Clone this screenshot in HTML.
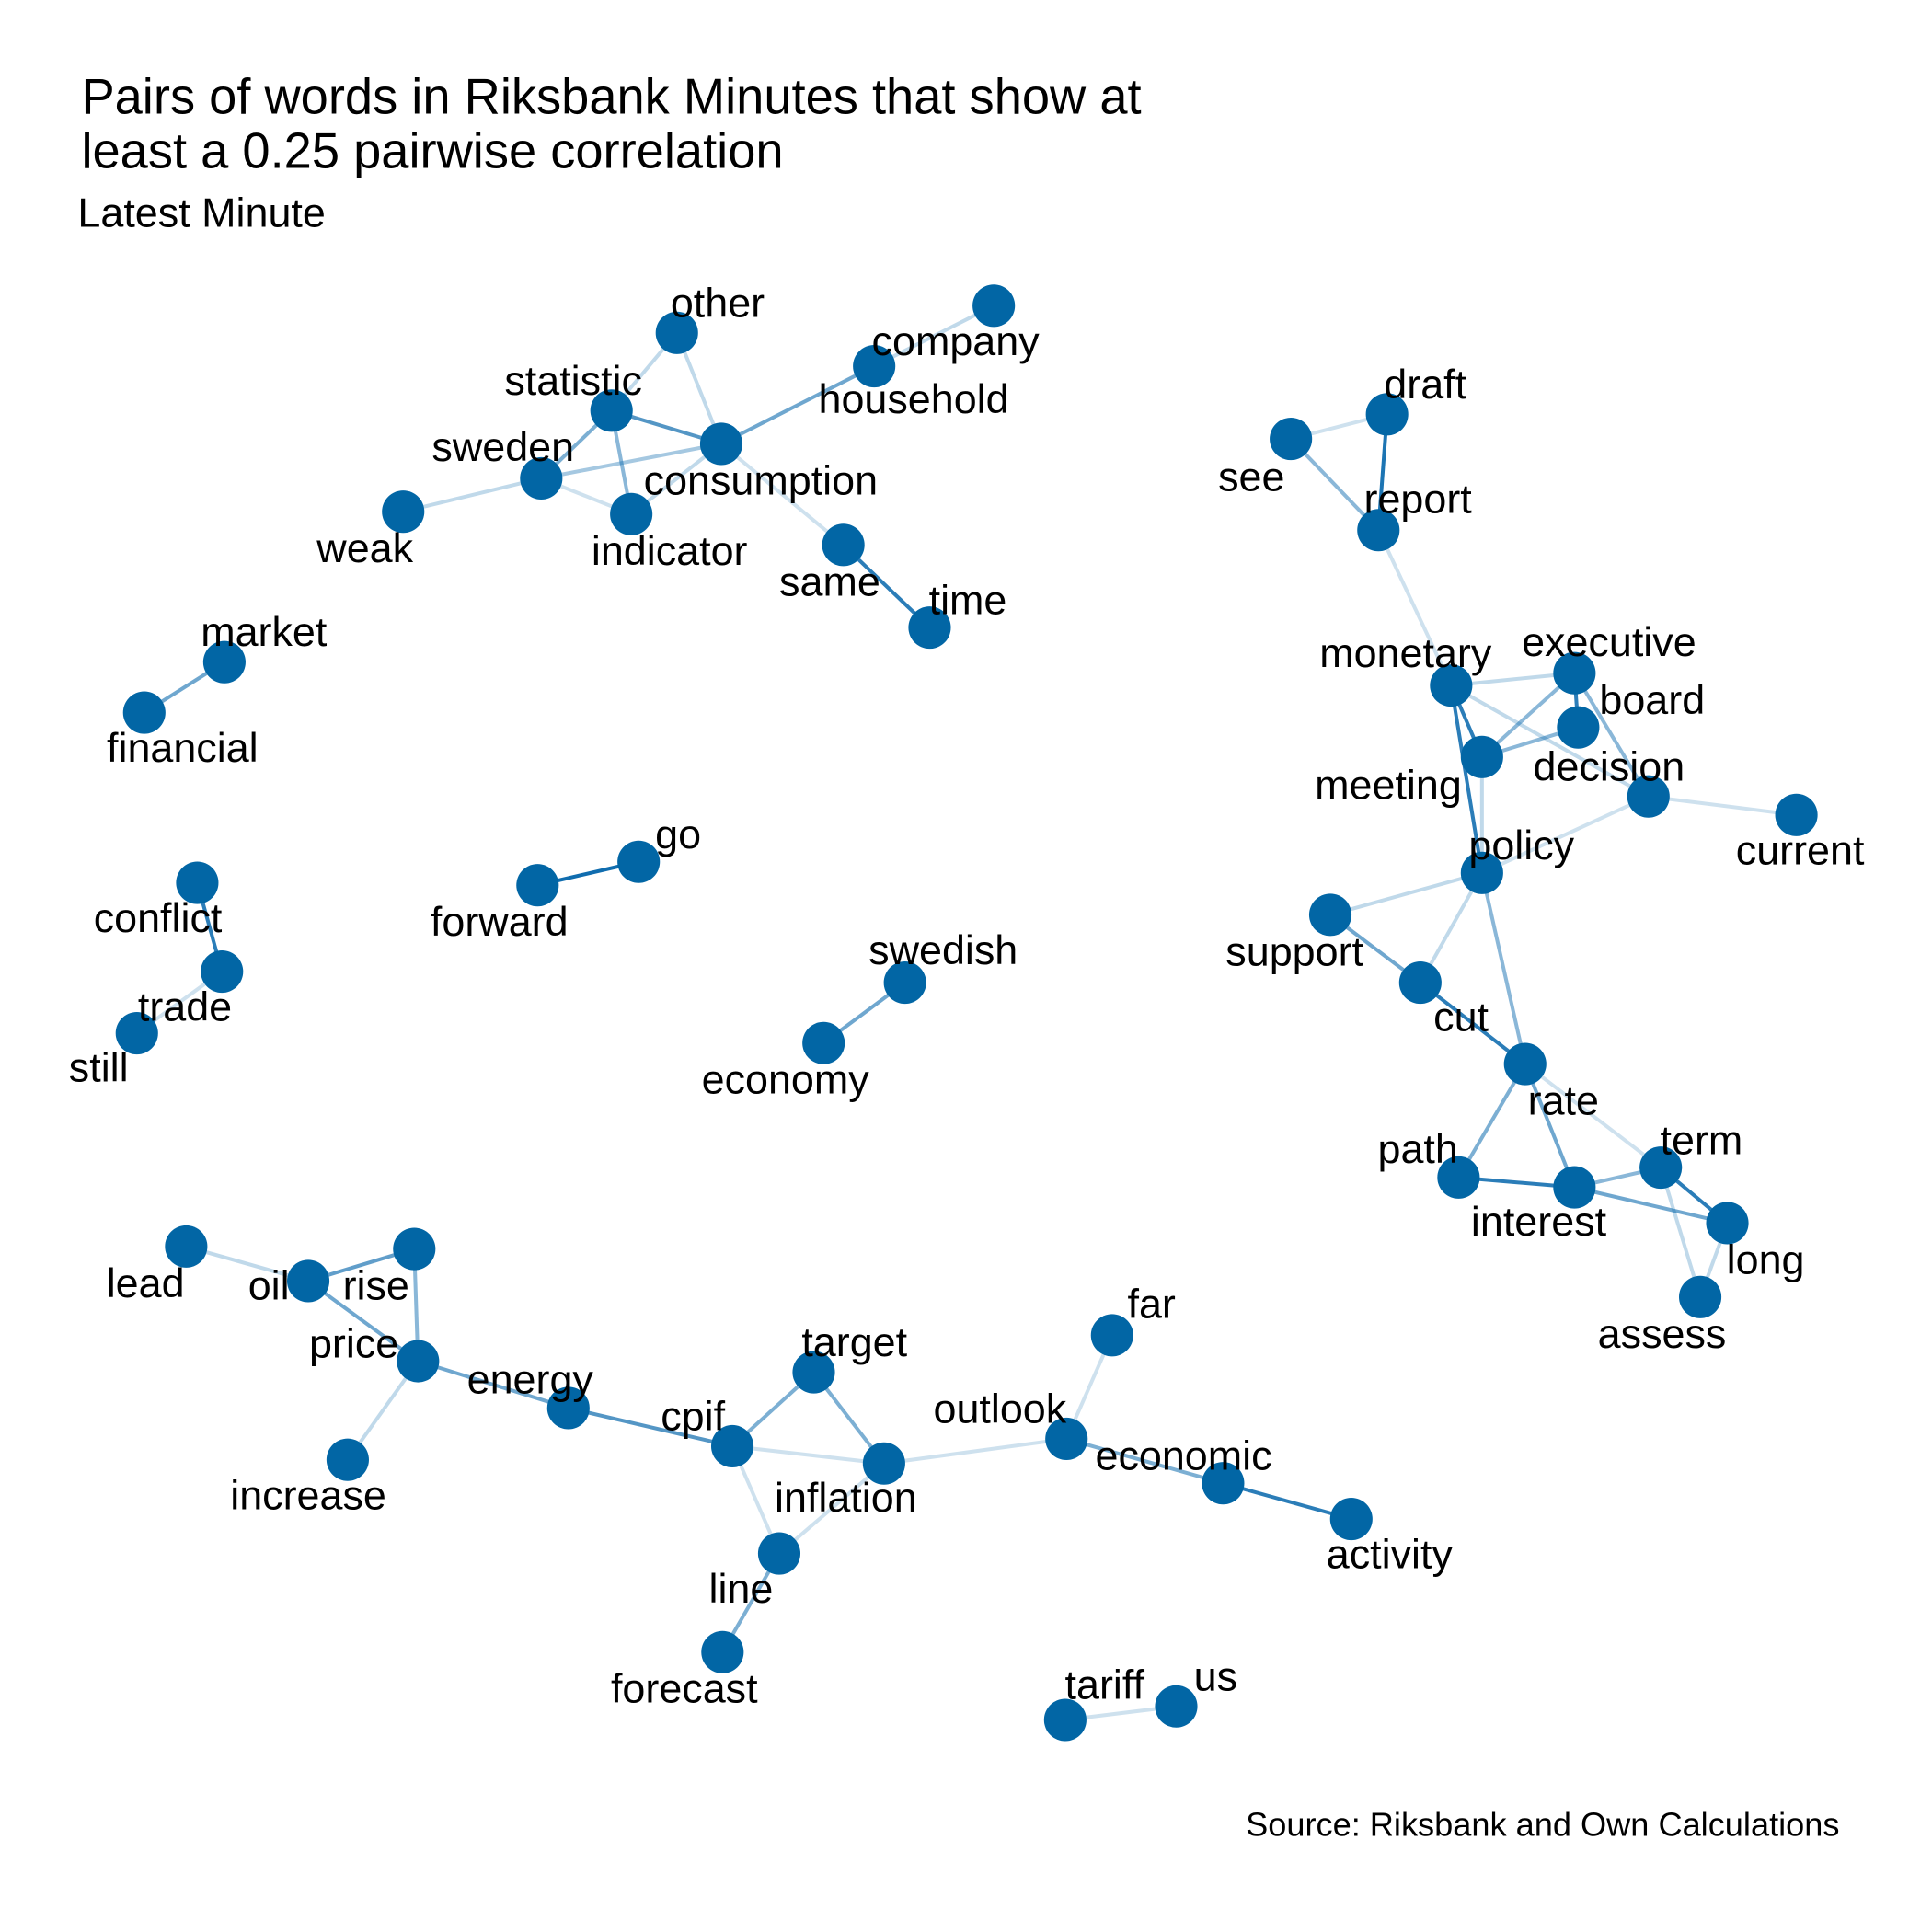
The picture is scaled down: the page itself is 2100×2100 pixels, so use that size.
<!DOCTYPE html>
<html><head><meta charset="utf-8"><style>
html,body{margin:0;padding:0;background:#fff}
svg{display:block}
text{font-family:"Liberation Sans",Arial,sans-serif;fill:#000}
</style></head><body>
<svg id="chart" width="2100" height="2100" viewBox="0 0 1567 1567" xmlns="http://www.w3.org/2000/svg">
<rect width="1567" height="1567" fill="#fff"/>
<text x="66" y="92" font-size="40.5">Pairs of words in Riksbank Minutes that show at</text>
<text x="66" y="136" font-size="40.5">least a 0.25 pairwise correlation</text>
<text x="63" y="184" font-size="33.5">Latest Minute</text>
<text x="1492" y="1489" font-size="27" text-anchor="end">Source: Riksbank and Own Calculations</text>
<g id="edges"></g>
<g id="nodes"></g>
<g id="labels"></g>
</svg>
<script>
const words = ["other","company","household","statistic","consumption","sweden","weak","indicator","same","time","market","financial","draft","see","report","monetary","executive","board","meeting","decision","current","policy","support","cut","rate","term","path","interest","long","assess","go","forward","conflict","trade","still","swedish","economy","lead","oil","rise","price","increase","energy","cpif","target","inflation","line","forecast","outlook","far","economic","activity","tariff","us"];
const nodeX = [549,806,709,496,585,439,327,512,684,754,182,117,1125,1047,1118,1177,1277,1280,1202,1337,1457,1202,1079,1152,1237,1347,1183,1277,1401,1379,518,436,160,180,111,734,668,151,250,336,339,282,461,594,660,717,632,586,865,902,992,1096,864,954];
const nodeY = [270,248,297,333,360,388,415,417,442,509,537,578,336,356,430,556,546,590,614,646,661,708,742,797,863,947,955,963,992,1052,699,718,716,788,838,797,846,1011,1039,1013,1104,1184,1142,1173,1113,1187,1260,1340,1167,1083,1203,1232,1395,1384];
const labelX = [582,775,741,465,617,408,296,543,673,785,214,148,1156,1015,1150,1140,1305,1340,1126,1305,1460,1234,1050,1185,1268,1380,1150,1248,1432,1348,550,405,128,150,80,765,637,118,218,305,287,250,430,562,693,686,601,555,811,934,960,1127,896,986];
const labelY = [246,277,324,309,390,363,445,447,472,487,513,607,312,387,405,530,521,568,637,622,690,686,772,825,893,925,932,991,1022,1082,677,748,745,817,866,771,876,1041,1043,1043,1090,1213,1119,1149,1089,1215,1289,1370,1143,1058,1181,1261,1367,1360];
const edgeFrom = ["other","company","household","statistic","statistic","statistic","sweden","sweden","sweden","indicator","consumption","same","statistic","market","draft","draft","see","report","monetary","monetary","monetary","monetary","executive","executive","executive","board","meeting","decision","decision","policy","policy","policy","support","cut","rate","rate","rate","path","interest","interest","term","term","long","go","conflict","trade","swedish","lead","oil","oil","rise","price","price","energy","cpif","cpif","target","cpif","inflation","line","inflation","outlook","outlook","economic","tariff"];
const edgeTo = ["consumption","household","consumption","consumption","sweden","indicator","consumption","weak","indicator","consumption","same","time","other","financial","see","report","report","monetary","executive","meeting","policy","decision","meeting","board","decision","meeting","policy","current","policy","support","cut","rate","cut","rate","path","interest","term","interest","term","long","long","assess","assess","forward","trade","still","economy","oil","price","rise","price","increase","energy","cpif","target","inflation","inflation","line","line","forecast","outlook","far","economic","activity","us"];
const edgeCorr = [0.3,0.3,0.6,0.7,0.55,0.5,0.4,0.3,0.25,0.3,0.25,0.85,0.3,0.6,0.25,0.9,0.5,0.25,0.3,0.85,0.85,0.3,0.5,0.85,0.5,0.5,0.3,0.25,0.25,0.3,0.3,0.5,0.6,0.85,0.55,0.6,0.25,0.85,0.5,0.6,0.85,0.3,0.3,0.95,0.85,0.25,0.6,0.3,0.6,0.65,0.5,0.3,0.6,0.7,0.55,0.25,0.55,0.25,0.25,0.55,0.25,0.25,0.55,0.85,0.25];
const NS="http://www.w3.org/2000/svg";
const eg=document.getElementById('edges'), ng=document.getElementById('nodes'), lg=document.getElementById('labels');
const idx = w => words.indexOf(w);
for(let i=0;i<edgeFrom.length;i++){
  const a=idx(edgeFrom[i]), b=idx(edgeTo[i]);
  const l=document.createElementNS(NS,'line');
  l.setAttribute('x1',nodeX[a]);l.setAttribute('y1',nodeY[a]);
  l.setAttribute('x2',nodeX[b]);l.setAttribute('y2',nodeY[b]);
  l.setAttribute('stroke','#0868ac');
  l.setAttribute('stroke-width',3);
  l.setAttribute('stroke-opacity',Math.min(1,0.2+(edgeCorr[i]-0.25)*1.1));
  
  
  eg.appendChild(l);
}
for(let i=0;i<words.length;i++){
  const c=document.createElementNS(NS,'circle');
  c.setAttribute('cx',nodeX[i]);c.setAttribute('cy',nodeY[i]);c.setAttribute('r',17.2);
  c.setAttribute('fill','#0266a5');
  
  
  ng.appendChild(c);
  const t=document.createElementNS(NS,'text');
  t.setAttribute('x',labelX[i]);t.setAttribute('y',labelY[i]+11);
  t.setAttribute('font-size',33.5);t.setAttribute('text-anchor','middle');
  t.textContent=words[i];
  
  
  lg.appendChild(t);
}
</script>
</body></html>
